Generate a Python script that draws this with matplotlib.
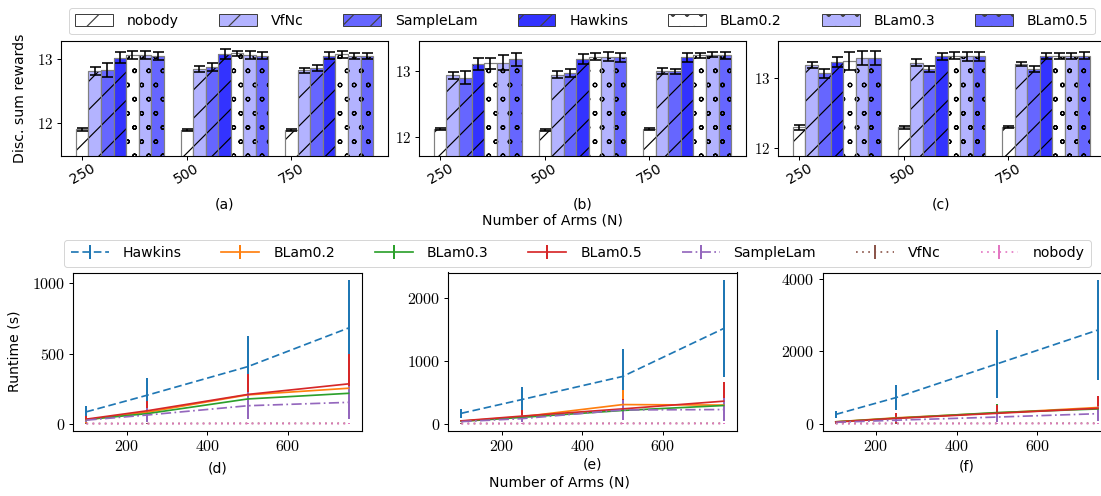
import numpy as np
import matplotlib
matplotlib.use("Agg")
import matplotlib.pyplot as plt
import matplotlib.hatch
from matplotlib.patches import Patch
from matplotlib.ticker import FuncFormatter, MultipleLocator

# the hatch spacing of the original only comes out right at this dpi,
# so every size below is given in pixels and turned into points
DPI = 170
W, H = 1101, 496


def pt(px):
    return px * 72 / DPI


# ---- top row: discounted sum of rewards (one row per method, N = 250/500/750)
methods = ["nobody", "VfNc", "SampleLam", "Hawkins", "BLam0.2", "BLam0.3", "BLam0.5"]
bar_colors = ["white", "#b3b3ff", "#6666ff", "#3333ff", "white", "#b3b3ff", "#6666ff"]
bar_hatches = ["//", "//", "//", "//", "oo", "oo", "oo"]
arm_labels = ["250", "500", "750"]

rew_a = [[11.90, 11.89, 11.89], [12.82, 12.85, 12.83], [12.84, 12.88, 12.87],
         [13.03, 13.08, 13.06], [13.07, 13.10, 13.08], [13.07, 13.07, 13.05],
         [13.05, 13.06, 13.05]]
err_a = [[0.025, 0.015, 0.015], [0.065, 0.05, 0.04], [0.11, 0.06, 0.05],
         [0.08, 0.08, 0.05], [0.06, 0.04, 0.05], [0.06, 0.07, 0.05],
         [0.065, 0.05, 0.05]]

rew_b = [[12.12, 12.11, 12.12], [12.94, 12.95, 13.00], [12.90, 12.97, 13.00],
         [13.11, 13.18, 13.21], [13.12, 13.22, 13.24], [13.13, 13.22, 13.25],
         [13.18, 13.21, 13.24]]
err_b = [[0.02, 0.015, 0.02], [0.05, 0.05, 0.045], [0.1, 0.06, 0.04],
         [0.09, 0.075, 0.075], [0.08, 0.055, 0.04], [0.11, 0.07, 0.04],
         [0.1, 0.07, 0.05]]

rew_c = [[12.30, 12.30, 12.31], [13.19, 13.22, 13.20], [13.07, 13.13, 13.13],
         [13.23, 13.31, 13.32], [13.25, 13.32, 13.32], [13.29, 13.31, 13.32],
         [13.29, 13.31, 13.32]]
err_c = [[0.03, 0.02, 0.015], [0.045, 0.05, 0.03], [0.06, 0.04, 0.045],
         [0.07, 0.05, 0.04], [0.13, 0.05, 0.04], [0.1, 0.07, 0.045],
         [0.1, 0.06, 0.05]]

# ---- bottom row: runtime in seconds
arms_rt = [100, 250, 500, 750]
rt_methods = ["Hawkins", "BLam0.2", "BLam0.3", "BLam0.5", "SampleLam", "VfNc", "nobody"]
rt_colors = ["C0", "C1", "C2", "C3", "C4", "C5", "C6"]
rt_styles = [(0, (4.5, 2.2)), "-", "-", "-", (0, (6.0, 2.0, 1.0, 2.0)), (0, (1.0, 2.6)), (0, (1.0, 2.6))]

rt_d = [[88, 205, 408, 682], [32, 85, 208, 255], [33, 75, 179, 219], [36, 95, 211, 286],
        [29, 65, 131, 155], [5, 5, 6, 6], [4, 4, 5, 5]]
rt_err_d = [[43, 120, 215, 342], [20, 45, 110, 150], [15, 35, 60, 80], [20, 70, 147, 214],
            [10, 50, 95, 118], [1, 1, 1, 1], [1, 1, 1, 1]]

rt_e = [[170, 388, 755, 1515], [45, 115, 308, 300], [42, 105, 215, 293], [50, 125, 240, 362],
        [38, 85, 223, 229], [8, 8, 10, 10], [5, 6, 7, 8]]
rt_err_e = [[70, 197, 442, 775], [15, 60, 224, 110], [15, 40, 100, 110], [15, 95, 150, 303],
            [10, 50, 160, 180], [2, 2, 2, 2], [2, 2, 2, 2]]

rt_f = [[260, 726, 1656, 2590], [55, 165, 300, 450], [55, 155, 310, 410], [50, 150, 290, 428],
        [40, 100, 186, 279], [8, 10, 12, 14], [5, 6, 7, 8]]
rt_err_f = [[100, 353, 930, 1390], [20, 90, 180, 280], [20, 80, 230, 200], [20, 150, 240, 344],
            [15, 60, 150, 200], [2, 2, 2, 2], [2, 2, 2, 2]]

plt.rcParams["font.family"] = ["DejaVu Sans"]
plt.rcParams["mathtext.fontset"] = "cm"
plt.rcParams["font.size"] = pt(14)
plt.rcParams["axes.linewidth"] = pt(1.1)
plt.rcParams["patch.linewidth"] = pt(1)
plt.rcParams["hatch.linewidth"] = pt(1.2)
for a in ("xtick", "ytick"):
    plt.rcParams[a + ".major.size"] = pt(4)
    plt.rcParams[a + ".major.width"] = pt(1)
    plt.rcParams[a + ".major.pad"] = pt(4)

# smaller rings than the default 'o' hatch
matplotlib.hatch.SmallCircles.size = 0.13

cm_fmt = FuncFormatter(lambda v, p: "$%g$" % v)

fig = plt.figure(figsize=(W / DPI, H / DPI), dpi=DPI)


def axes_px(left, top, right, bottom):
    return fig.add_axes([left / W, 1 - bottom / H, (right - left) / W, (bottom - top) / H])


def draw_bars(ax, rew, err, ylim):
    x = np.arange(len(arm_labels))
    width = 0.12
    for i in range(len(methods)):
        xs = x + i * width
        ax.bar(xs, rew[i], width, color=bar_colors[i], hatch=bar_hatches[i],
               edgecolor="black", linewidth=0)
        ax.bar(xs, rew[i], width, fill=False, edgecolor="0.5", linewidth=pt(1.2))
        ax.errorbar(xs, rew[i], yerr=err[i], fmt="none", ecolor="black",
                    elinewidth=pt(1.6), capsize=pt(5.5), capthick=pt(1.6))
    ax.set_xticks(x)
    ax.set_xticklabels(arm_labels, rotation=30, fontsize=pt(14))
    ax.tick_params(axis="x", pad=pt(2))
    ax.set_ylim(ylim)
    ax.yaxis.set_major_locator(MultipleLocator(1))
    ax.yaxis.set_major_formatter(cm_fmt)
    ax.tick_params(axis="y", labelsize=pt(15))


def draw_runtime(ax, rt, err, ystep):
    for i in range(len(rt_methods)):
        ax.errorbar(arms_rt, rt[i], yerr=err[i], color=rt_colors[i], linestyle=rt_styles[i],
                    linewidth=pt(1.7), elinewidth=pt(2), label=rt_methods[i])
    ax.xaxis.set_major_locator(MultipleLocator(200))
    ax.yaxis.set_major_locator(MultipleLocator(ystep))
    ax.xaxis.set_major_formatter(cm_fmt)
    ax.yaxis.set_major_formatter(cm_fmt)
    ax.tick_params(labelsize=pt(16))


ax_a = axes_px(61, 41, 388, 155.5)
ax_b = axes_px(419, 41, 746, 155.5)
ax_c = axes_px(778, 41, 1105, 155.5)
draw_bars(ax_a, rew_a, err_a, (11.49, 13.29))
draw_bars(ax_b, rew_b, err_b, (11.72, 13.46))
draw_bars(ax_c, rew_c, err_c, (11.90, 13.53))

ax_d = axes_px(73.3, 272.5, 361.7, 431)
ax_e = axes_px(448.3, 272.5, 736.7, 431)
ax_f = axes_px(822.7, 272.5, 1111, 431)
draw_runtime(ax_d, rt_d, rt_err_d, 500)
draw_runtime(ax_e, rt_e, rt_err_e, 1000)
draw_runtime(ax_f, rt_f, rt_err_f, 2000)


def label_px(x, y, s, **kw):
    fig.text(x / W, 1 - y / H, s, ha="center", va="center", fontsize=pt(14), **kw)


label_px(224.5, 205, "(a)")
label_px(582.5, 205, "(b)")
label_px(941, 205, "(c)")
label_px(552, 220, "Number of Arms (N)")
label_px(20, 98, "Disc. sum rewards", rotation=90)

label_px(217.5, 468, "(d)")
label_px(592.5, 465, "(e)")
label_px(967, 467, "(f)")
label_px(559, 483, "Number of Arms (N)")
label_px(15, 351, "Runtime (s)", rotation=90)

bar_handles = [Patch(facecolor=c, edgecolor="0.25", hatch=h, linewidth=pt(1))
               for c, h in zip(bar_colors, bar_hatches)]
fig.legend(bar_handles, methods, loc="center", bbox_to_anchor=(582 / W, 1 - 21 / H),
           ncol=7, handlelength=2.7, handleheight=0.9, handletextpad=1.0,
           columnspacing=2.85, fontsize=pt(14), borderpad=0.45)

h, l = ax_d.get_legend_handles_labels()
fig.legend(h, l, loc="center", bbox_to_anchor=(577.5 / W, 1 - 253.3 / H),
           ncol=7, handlelength=2.7, handletextpad=1.0, columnspacing=2.85,
           fontsize=pt(14), borderpad=0.45)

fig.savefig("out.png", dpi=DPI)
